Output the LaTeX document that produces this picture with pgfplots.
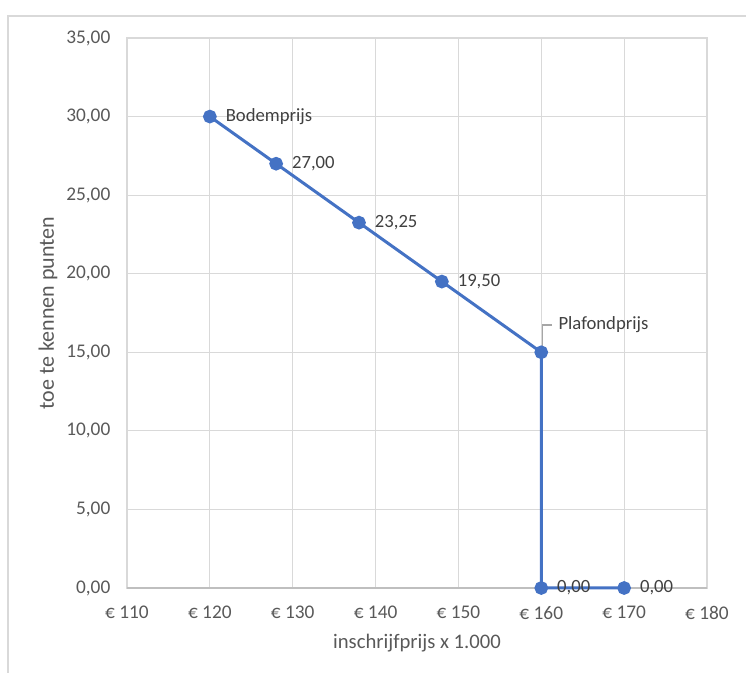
\documentclass[border=0pt]{standalone}
\usepackage{fontspec}
\setmainfont{Carlito}
\usepackage{pgfplots}
\pgfplotsset{compat=1.18}

\definecolor{lineblue}{HTML}{4472C4}
\definecolor{gridgray}{HTML}{D9D9D9}
\definecolor{axisgray}{HTML}{BFBFBF}
\definecolor{ticktext}{HTML}{595959}
\definecolor{labeltext}{HTML}{404040}
\definecolor{leadergray}{HTML}{A6A6A6}

\begin{document}
\begin{tikzpicture}
\begin{axis}[
  at={(0,0)}, anchor=south west,
  scale only axis,
  width=435pt, height=412.5pt,
  xmin=110, xmax=180,
  ymin=0, ymax=35,
  xtick={110,120,130,140,150,160,170,180},
  xticklabels={€ 110,€ 120,€ 130,€ 140,€ 150,€ 160,€ 170,€ 180},
  ytick={0,5,10,15,20,25,30,35},
  yticklabels={{0,00},{5,00},{10,00},{15,00},{20,00},{25,00},{30,00},{35,00}},
  major tick length=0pt,
  grid=major,
  grid style={gridgray, line width=0.9pt},
  axis line style={gridgray, line width=0.9pt},
  ticklabel style={font=\fontsize{14.5}{17}\selectfont, text=ticktext},
  xticklabel style={yshift=-10pt},
  yticklabel style={xshift=-9pt},
  xlabel={inschrijfprijs x 1.000},
  ylabel={toe te kennen punten},
  label style={text=ticktext},
  xlabel style={font=\fontsize{15.5}{18}\selectfont, at={(axis description cs:0.5,-0.1)}, anchor=center},
  ylabel style={font=\fontsize{16.5}{19}\selectfont, at={(axis description cs:-0.1362,0.5)}, anchor=center},
  clip=false,
  nodes near coords,
  point meta=explicit symbolic,
  nodes near coords style={anchor=west, xshift=7.5pt, yshift=0pt,
    font=\fontsize{14}{17}\selectfont, text=labeltext},
]
\draw[axisgray, line width=0.9pt] (axis cs:110,0) -- (axis cs:180,0);
\addplot[lineblue, line width=2.25pt, mark=*, mark size=4pt,
  mark options={solid, fill=lineblue, draw=lineblue}]
  table[meta=label] {
x y label
120 30 Bodemprijs
128 27 {27,00}
138 23.25 {23,25}
148 19.5 {19,50}
160 15 {}
160 0 {0,00}
170 0 {0,00}
};
\draw[leadergray, line width=1pt] (axis cs:160.12,15.3) -- (axis cs:160.12,16.74) -- (axis cs:161.3,16.74);
\node[anchor=west, inner sep=0pt, font=\fontsize{14}{17}\selectfont, text=labeltext]
  at (axis cs:162.05,16.74) {Plafondprijs};
\end{axis}
\draw[gridgray, line width=1.5pt] (-88.9pt,-70pt) -- (-88.9pt,429pt) -- (470pt,429pt);
\pgfresetboundingbox
\useasboundingbox (-95.25pt,-63.75pt) rectangle (464.25pt,441pt);
\end{tikzpicture}
\end{document}
